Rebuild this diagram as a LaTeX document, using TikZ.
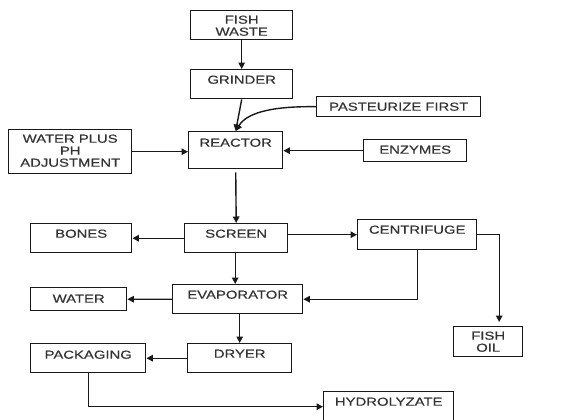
\documentclass[tikz,border=0pt]{standalone}
\usepackage{fontspec}
\usetikzlibrary{arrows.meta}
\newfontfamily\boxfont[FakeStretch=1.28, FakeBold=0.4]{Liberation Sans}
\newcommand{\twolines}[2]{\begin{tabular}[t]{@{}c@{}}#1\\#2\end{tabular}}
\newcommand{\threelines}[3]{\begin{tabular}[t]{@{}c@{}}#1\\#2\\#3\end{tabular}}
\tikzset{
  procbox/.style={draw=black!90, line width=1.4bp, inner xsep=0pt, inner ysep=0pt,
    anchor=north west, align=center, text=black!80,
    font=\boxfont\fontsize{11.6bp}{12bp}\selectfont},
  flow/.style={draw=black!90, line width=1.4bp, -{Triangle[length=6.5bp,width=6.5bp]}}
}
\begin{document}
\begin{tikzpicture}[x=1bp, y=-1bp]
\useasboundingbox (0,0) rectangle (563,419);
\fill[white] (0,0) rectangle (563,419);

% process boxes: top-left corner, width, baseline offset and remaining depth
\node[procbox, minimum width=102bp, text height=13bp, text depth=16bp] (fish) at (190,10) {\twolines{FISH}{WASTE}};
\node[procbox, minimum width=102bp, text height=14bp, text depth=15bp] (grinder) at (190,69) {GRINDER};
\node[procbox, minimum width=164bp, text height=14bp, text depth=6bp] (past) at (316,96) {PASTEURIZE FIRST};
\node[procbox, minimum width=123bp, text height=13bp, text depth=31bp] (waterph) at (8,129) {\threelines{WATER PLUS}{PH}{ADJUSTMENT}};
\node[procbox, minimum width=94bp, text height=15bp, text depth=22bp] (reactor) at (188,131) {REACTOR};
\node[procbox, minimum width=103bp, text height=14bp, text depth=8bp] (enzymes) at (363,139) {ENZYMES};
\node[procbox, minimum width=103bp, text height=14bp, text depth=15bp] (screen) at (184,223) {SCREEN};
\node[procbox, minimum width=101bp, text height=14bp, text depth=15bp] (bones) at (30,223) {BONES};
\node[procbox, minimum width=119bp, text height=14bp, text depth=16bp] (centrifuge) at (357,219) {CENTRIFUGE};
\node[procbox, minimum width=130bp, text height=14bp, text depth=15bp] (evap) at (172,284) {EVAPORATOR};
\node[procbox, minimum width=96bp, text height=15bp, text depth=8bp] (water) at (30,287) {WATER};
\node[procbox, minimum width=104bp, text height=14bp, text depth=15bp] (dryer) at (187,343) {DRYER};
\node[procbox, minimum width=115bp, text height=15bp, text depth=14bp] (packaging) at (30,343) {PACKAGING};
\node[procbox, minimum width=69bp, text height=13bp, text depth=17bp] (fishoil) at (453,326) {\twolines{FISH}{OIL}};
\node[procbox, minimum width=130bp, text height=14bp, text depth=16bp] (hydro) at (323,391) {HYDROLYZATE};

% connectors
\draw[flow] (fish.south) -- (grinder.north);
\draw[flow] (grinder.south) -- (reactor.north);
\draw[flow] (past.west) .. controls (268,106) and (246,114) .. (reactor.north);
\draw[flow] (waterph.east) -- (waterph.east -| reactor.west);
\draw[flow] (enzymes.west) -- (enzymes.west -| reactor.east);
\draw[flow, shorten <=3bp] (reactor.south) -- (screen.north);
\draw[flow] (screen.west) -- (bones.east);
\draw[flow] (screen.east |- centrifuge.west) -- (centrifuge.west);
\draw[flow] ([xshift=-1bp]screen.south) -- ([xshift=-1bp]screen.south |- evap.north);
\draw[flow, shorten >=4bp] (centrifuge.east) -| ([xshift=11bp]fishoil.north);
\draw[flow] (centrifuge.south) |- (evap.east);
\draw[flow] (evap.west) -- (water.east);
\draw[flow] (dryer.north |- evap.south) -- (dryer.north);
\draw[flow] (dryer.west) -- (packaging.east);
\draw[flow] (packaging.south) |- (hydro.west);
\end{tikzpicture}
\end{document}
